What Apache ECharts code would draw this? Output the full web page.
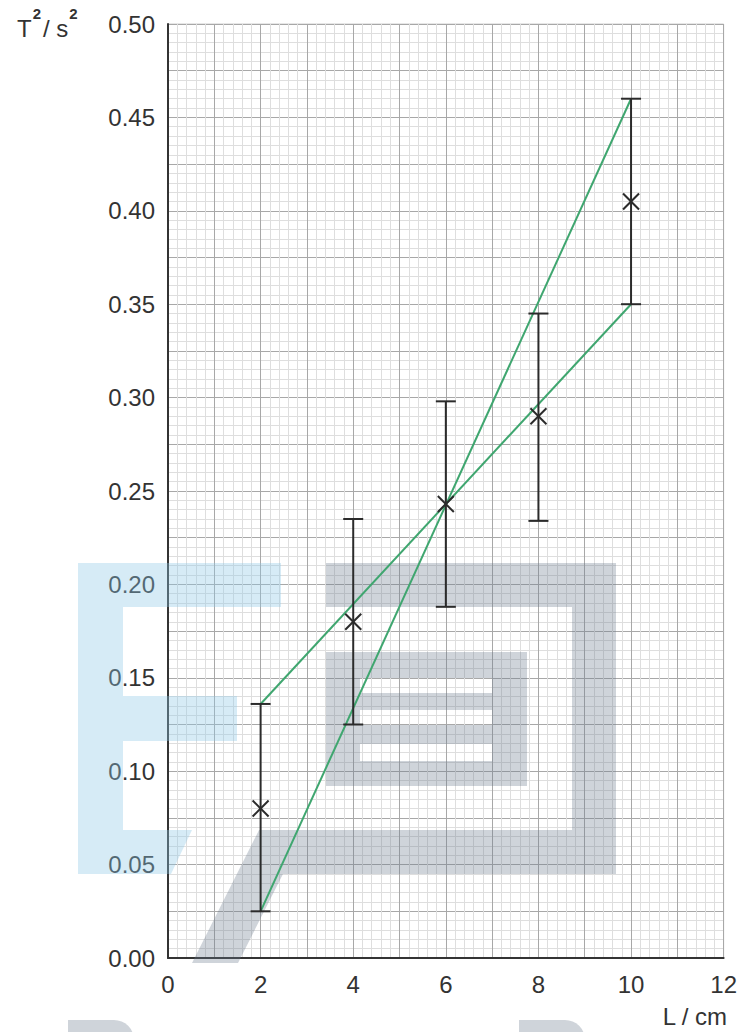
<!DOCTYPE html>
<html>
<head>
<meta charset="utf-8">
<script src="https://cdn.jsdelivr.net/npm/echarts@6/dist/echarts.min.js"></script>
<style>
html,body{margin:0;padding:0;background:#fff;}
#chart{width:740px;height:1032px;}
</style>
</head>
<body>
<div id="chart"></div>
<script>
// ---- data ----
const xVals   = [2, 4, 6, 8, 10];
const yVals   = [0.080, 0.180, 0.243, 0.290, 0.405];
const errLow  = [0.025, 0.125, 0.188, 0.234, 0.350];
const errHigh = [0.136, 0.235, 0.298, 0.345, 0.460];
const steepLine   = [[2, 0.025], [10, 0.460]];
const shallowLine = [[2, 0.136], [10, 0.350]];
const xTickLabels = [0, 2, 4, 6, 8, 10, 12];
const yTickLabels = ['0.00','0.05','0.10','0.15','0.20','0.25','0.30','0.35','0.40','0.45','0.50'];

const FONT = '"Liberation Sans", Arial, sans-serif';
const chart = echarts.init(document.getElementById('chart'), null, {renderer: 'svg'});

const pointData = xVals.map((x, i) => [x, yVals[i], errLow[i], errHigh[i]]);

const blue = 'rgba(140,200,230,0.36)';
const grey = 'rgba(105,120,140,0.32)';

function rect(x, y, w, h, fill, r) {
  return {type: 'rect', z: 1, silent: true, shape: {x, y, width: w, height: h, r: r || 0}, style: {fill}};
}
function poly(points, fill) {
  return {type: 'polygon', z: 1, silent: true, shape: {points}, style: {fill}};
}

const option = {
  animation: false,
  backgroundColor: '#fff',
  grid: {left: 168, top: 24, width: 556, height: 934, show: true, borderColor: '#cfcfcf', borderWidth: 1, backgroundColor: 'transparent'},
  xAxis: {
    type: 'value', min: 0, max: 12, interval: 1,
    axisLine: {show: true, onZero: false, lineStyle: {color: '#333', width: 2}},
    axisTick: {show: false},
    minorTick: {show: true, splitNumber: 5, length: 0, lineStyle: {opacity: 0}},
    minorSplitLine: {show: true, lineStyle: {color: '#dedede', width: 1}},
    splitLine: {show: true, lineStyle: {color: '#a8a8a8', width: 1}},
    axisLabel: {
      margin: 14, color: '#333', fontSize: 24, fontFamily: FONT,
      formatter: v => (xTickLabels.indexOf(v) >= 0 ? String(v) : '')
    }
  },
  yAxis: {
    type: 'value', min: 0, max: 0.5, interval: 0.025,
    axisLine: {show: true, onZero: false, lineStyle: {color: '#333', width: 2}},
    axisTick: {show: false},
    minorTick: {show: true, splitNumber: 5, length: 0, lineStyle: {opacity: 0}},
    minorSplitLine: {show: true, lineStyle: {color: '#dedede', width: 1}},
    splitLine: {show: true, lineStyle: {color: '#a8a8a8', width: 1}},
    axisLabel: {
      margin: 13, color: '#333', fontSize: 24, fontFamily: FONT,
      formatter: v => {
        const s = v.toFixed(2);
        return (Math.abs(Math.round(v * 1000) % 50) === 0 && yTickLabels.indexOf(s) >= 0) ? s : '';
      }
    }
  },
  graphic: [
    // watermark (blue)
    rect(78, 563, 203, 44, blue),
    rect(78, 607, 45, 89, blue),
    rect(78, 696, 159, 45, blue),
    rect(78, 741, 45, 89, blue),
    poly([[78, 830], [192, 830], [171, 874], [78, 874]], blue),
    // watermark (grey)
    rect(326, 563, 290, 44, grey),
    rect(572, 607, 44, 223, grey),
    poly([[259, 830], [616, 830], [616, 874], [283, 874], [238, 963], [192, 963]], grey),
    rect(326, 652, 201, 26, grey),
    rect(326, 678, 34, 108, grey),
    rect(492, 678, 35, 108, grey),
    rect(360, 693, 132, 17, grey),
    rect(360, 725, 132, 19, grey),
    rect(360, 761, 132, 25, grey),
    rect(68, 1020, 66, 20, grey, [0, 30, 0, 0]),
    rect(519, 1020, 66, 20, grey, [0, 30, 0, 0]),
    // axis titles
    {type: 'text', z: 10, left: 17, top: 6, style: {
      text: '{b|T}{s|2}{b|/ s}{s|2}',
      rich: {
        b: {fontSize: 24, fontFamily: FONT, fill: '#333', verticalAlign: 'bottom', lineHeight: 34},
        s: {fontSize: 15, fontFamily: FONT, fill: '#333', fontWeight: 'bold', verticalAlign: 'top', lineHeight: 34, padding: [0, 2, 14, 1]}
      }
    }},
    {type: 'text', z: 10, right: 12, top: 1004, style: {
      text: 'L / cm', fontSize: 24, fontFamily: FONT, fill: '#333'
    }}
  ],
  series: [
    {
      type: 'line', data: steepLine, symbol: 'none', z: 3,
      lineStyle: {color: '#3fa66f', width: 2}
    },
    {
      type: 'line', data: shallowLine, symbol: 'none', z: 3,
      lineStyle: {color: '#3fa66f', width: 2}
    },
    {
      type: 'custom', z: 4, data: pointData,
      renderItem: function (params, api) {
        const x = api.value(0);
        const c = api.coord([x, api.value(1)]);
        const lo = api.coord([x, api.value(2)]);
        const hi = api.coord([x, api.value(3)]);
        const cap = 10, h = 8;
        const st = {stroke: '#2b2b2b', lineWidth: 2};
        return {
          type: 'group',
          children: [
            {type: 'line', shape: {x1: lo[0], y1: lo[1], x2: hi[0], y2: hi[1]}, style: st},
            {type: 'line', shape: {x1: lo[0] - cap, y1: lo[1], x2: lo[0] + cap, y2: lo[1]}, style: st},
            {type: 'line', shape: {x1: hi[0] - cap, y1: hi[1], x2: hi[0] + cap, y2: hi[1]}, style: st},
            {type: 'line', shape: {x1: c[0] - h, y1: c[1] - h, x2: c[0] + h, y2: c[1] + h}, style: st},
            {type: 'line', shape: {x1: c[0] - h, y1: c[1] + h, x2: c[0] + h, y2: c[1] - h}, style: st}
          ]
        };
      }
    }
  ]
};
chart.setOption(option);
</script>
</body>
</html>
